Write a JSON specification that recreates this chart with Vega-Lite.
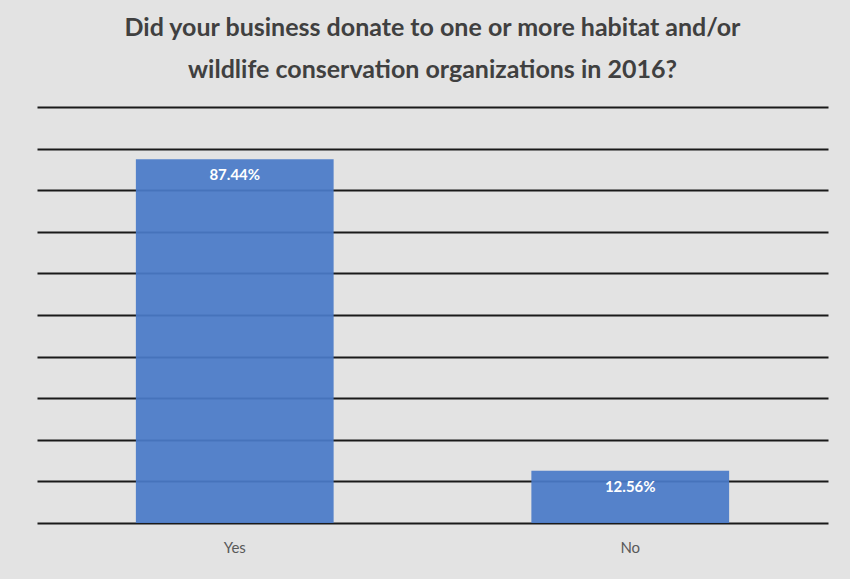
{
  "$schema": "https://vega.github.io/schema/vega-lite/v6.json",
  "width": 791,
  "height": 416,
  "autosize": "none",
  "padding": {"left": 37, "top": 107, "right": 22, "bottom": 56},
  "background": "#e3e3e3",
  "title": {
    "text": ["Did your business donate to one or more habitat and/or", "wildlife conservation organizations in 2016?"],
    "font": "Lato",
    "fontSize": 25,
    "fontWeight": "bold",
    "color": "#404040",
    "lineHeight": 42,
    "anchor": "middle",
    "offset": 24
  },
  "data": {
    "values": [
      {"answer": "Yes", "pct": 87.44, "label": "87.44%"},
      {"answer": "No", "pct": 12.56, "label": "12.56%"}
    ]
  },
  "config": {
    "view": {"stroke": null},
    "axis": {"labelFont": "Lato"}
  },
  "encoding": {
    "x": {
      "field": "answer",
      "type": "nominal",
      "sort": ["Yes", "No"],
      "scale": {"paddingInner": 0.5, "paddingOuter": 0.25},
      "axis": {"title": null, "labelAngle": 0, "ticks": false, "domain": false, "labelFontSize": 15, "labelColor": "#595959", "labelPadding": 17}
    },
    "y": {
      "field": "pct",
      "type": "quantitative",
      "scale": {"domain": [0, 100]},
      "axis": {"title": null, "labels": false, "ticks": false, "domain": false, "values": [0,10,20,30,40,50,60,70,80,90,100], "grid": true, "gridColor": "#1a1a1a", "gridWidth": 2}
    }
  },
  "layer": [
    {"mark": {"type": "bar", "color": "#4a7bc8", "opacity": 0.93}},
    {
      "mark": {"type": "text", "baseline": "top", "dy": 9, "color": "white", "font": "Lato", "fontWeight": "bold", "fontSize": 15},
      "encoding": {"text": {"field": "label"}}
    }
  ]
}
